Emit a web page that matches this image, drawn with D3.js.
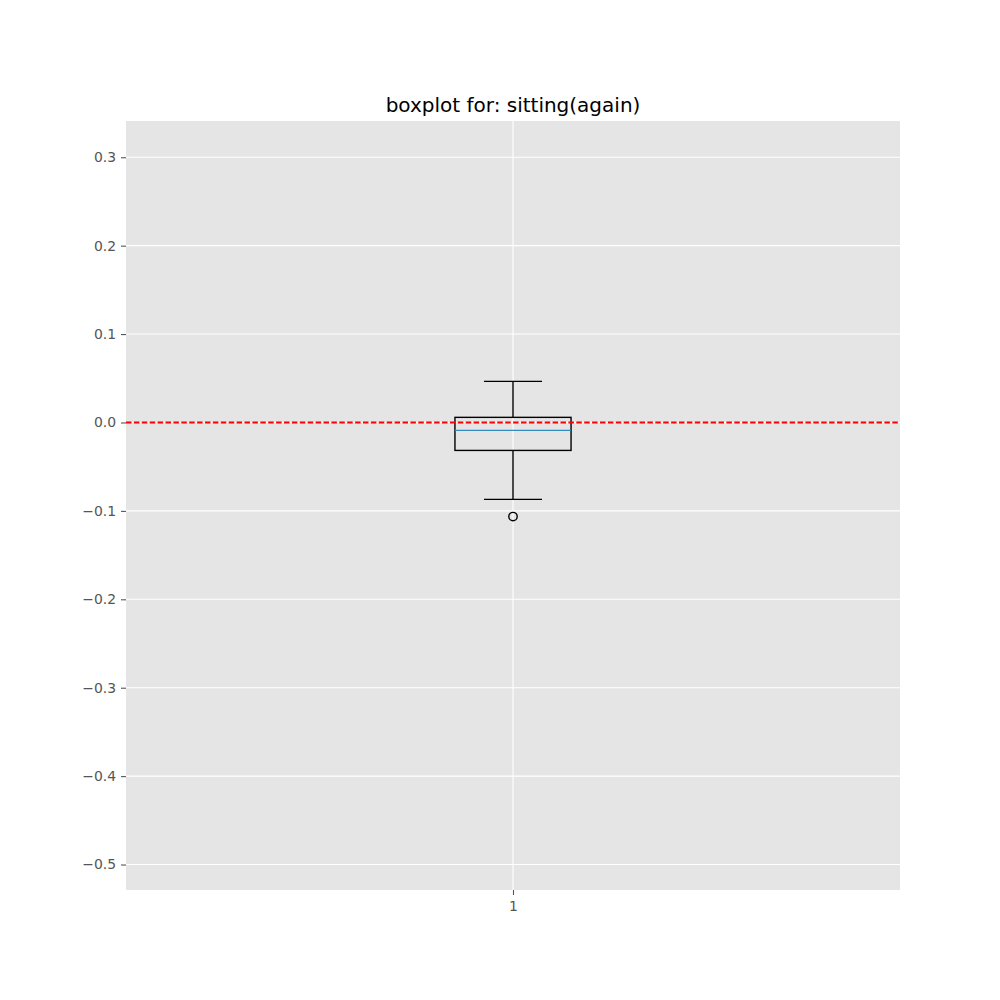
<!DOCTYPE html>
<html>
<head>
<meta charset="utf-8">
<script src="https://cdn.jsdelivr.net/npm/d3@7"></script>
<style>
  body { margin: 0; background: #fff; }
  text { font-family: "DejaVu Sans", sans-serif; }
</style>
</head>
<body>
<svg id="chart" width="1000" height="1000"></svg>
<script>
// Box statistics
var categories = [1];
var q1Values = [-0.0316];
var medianValues = [-0.0089];
var q3Values = [0.0058];
var lowWhiskers = [-0.0870];
var highWhiskers = [0.0465];
var outliers = [[-0.1064]];
var yTicks = [0.3, 0.2, 0.1, 0.0, -0.1, -0.2, -0.3, -0.4, -0.5];
var referenceLine = 0;

var width = 1000, height = 1000;
var margin = { left: 126, right: 100, top: 121, bottom: 110 };

var svg = d3.select("#chart");

var xScale = d3.scaleLinear()
    .domain([0.5, 1.5])
    .range([margin.left, width - margin.right]);

var yScale = d3.scaleLinear()
    .domain([-0.5288, 0.341])
    .range([height - margin.bottom, margin.top]);

// Background panel
svg.append("rect")
    .attr("x", margin.left)
    .attr("y", margin.top)
    .attr("width", width - margin.left - margin.right)
    .attr("height", height - margin.top - margin.bottom)
    .attr("fill", "#E5E5E5");

// Grid lines
var grid = svg.append("g");
grid.selectAll("line.hgrid")
    .data(yTicks)
    .enter()
    .append("line")
    .attr("class", "hgrid")
    .attr("x1", margin.left)
    .attr("x2", width - margin.right)
    .attr("y1", d => yScale(d))
    .attr("y2", d => yScale(d))
    .attr("stroke", "#fff")
    .attr("stroke-width", 1.1);
grid.selectAll("line.vgrid")
    .data(categories)
    .enter()
    .append("line")
    .attr("class", "vgrid")
    .attr("x1", d => xScale(d))
    .attr("x2", d => xScale(d))
    .attr("y1", margin.top)
    .attr("y2", height - margin.bottom)
    .attr("stroke", "#fff")
    .attr("stroke-width", 1.1);

// Axes
var yAxis = d3.axisLeft(yScale)
    .tickValues(yTicks)
    .tickSize(5)
    .tickPadding(5)
    .tickFormat(d => d3.format(".1f")(d).replace("-", "\u2212"));
var yAxisG = svg.append("g")
    .attr("transform", "translate(" + margin.left + ",0)")
    .call(yAxis);

var xAxis = d3.axisBottom(xScale)
    .tickValues(categories)
    .tickSize(5)
    .tickPadding(6)
    .tickFormat(d => String(d));
var xAxisG = svg.append("g")
    .attr("transform", "translate(0," + (height - margin.bottom) + ")")
    .call(xAxis);

[yAxisG, xAxisG].forEach(function (g) {
    g.select(".domain").remove();
    g.selectAll(".tick line").attr("stroke", "#555555").attr("stroke-width", 1.1);
    g.selectAll(".tick text")
        .attr("fill", "#555555")
        .attr("font-size", "13.9px")
        .style("font-family", "DejaVu Sans, sans-serif");
});

// Boxes
var boxHalf = 0.075, capHalf = 0.0375;
var boxes = svg.selectAll("g.box")
    .data(categories)
    .enter()
    .append("g")
    .attr("class", "box");

boxes.each(function (c, i) {
    var g = d3.select(this);
    var cx = xScale(c);
    // whiskers
    g.append("line")
        .attr("x1", cx).attr("x2", cx)
        .attr("y1", yScale(q3Values[i])).attr("y2", yScale(highWhiskers[i]))
        .attr("stroke", "#000").attr("stroke-width", 1.4);
    g.append("line")
        .attr("x1", cx).attr("x2", cx)
        .attr("y1", yScale(q1Values[i])).attr("y2", yScale(lowWhiskers[i]))
        .attr("stroke", "#000").attr("stroke-width", 1.4);
    // caps
    [highWhiskers[i], lowWhiskers[i]].forEach(function (v) {
        g.append("line")
            .attr("x1", xScale(c - capHalf)).attr("x2", xScale(c + capHalf))
            .attr("y1", yScale(v)).attr("y2", yScale(v))
            .attr("stroke", "#000").attr("stroke-width", 1.4);
    });
    // box
    g.append("rect")
        .attr("x", xScale(c - boxHalf))
        .attr("y", yScale(q3Values[i]))
        .attr("width", xScale(c + boxHalf) - xScale(c - boxHalf))
        .attr("height", yScale(q1Values[i]) - yScale(q3Values[i]))
        .attr("fill", "none")
        .attr("stroke", "#000")
        .attr("stroke-width", 1.4);
    // median
    g.append("line")
        .attr("x1", xScale(c - boxHalf)).attr("x2", xScale(c + boxHalf))
        .attr("y1", yScale(medianValues[i])).attr("y2", yScale(medianValues[i]))
        .attr("stroke", "#348ABD").attr("stroke-width", 1.4);
    // fliers
    g.selectAll("circle")
        .data(outliers[i])
        .enter()
        .append("circle")
        .attr("cx", cx)
        .attr("cy", d => yScale(d))
        .attr("r", 4.2)
        .attr("fill", "none")
        .attr("stroke", "#000")
        .attr("stroke-width", 1.4);
});

// Red dashed reference line
svg.append("line")
    .attr("x1", margin.left)
    .attr("x2", width - margin.right)
    .attr("y1", yScale(referenceLine))
    .attr("y2", yScale(referenceLine))
    .attr("stroke", "red")
    .attr("stroke-width", 2)
    .attr("stroke-dasharray", "5.5,2.4");

// Title
svg.append("text")
    .attr("x", (margin.left + width - margin.right) / 2)
    .attr("y", margin.top - 9)
    .attr("text-anchor", "middle")
    .attr("font-size", "20px")
    .attr("fill", "#000")
    .text("boxplot for: sitting(again)");
</script>
</body>
</html>
